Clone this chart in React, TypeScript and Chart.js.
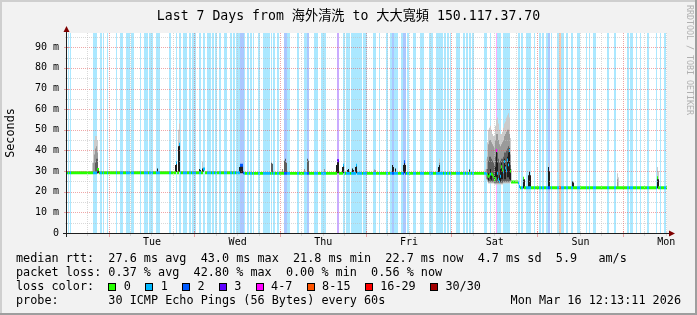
import React, { useEffect, useRef } from 'react';
import { Chart, registerables } from 'chart.js';

Chart.register(...registerables);

// ---------- text ----------
const TITLE = 'Last 7 Days from 海外清洗 to 大大寬頻 150.117.37.70';
const Y_AXIS_TITLE = 'Seconds';
const WATERMARK = 'RRDTOOL / TOBI OETIKER';
const LEGEND_RTT = 'median rtt:  27.6 ms avg  43.0 ms max  21.8 ms min  22.7 ms now  4.7 ms sd  5.9   am/s';
const LEGEND_LOSS = 'packet loss: 0.37 % avg  42.80 % max  0.00 % min  0.56 % now';
const LEGEND_COLOR_HEAD = 'loss color:';
const LEGEND_PROBE = 'probe:       30 ICMP Echo Pings (56 Bytes) every 60s';
const STAMP = 'Mon Mar 16 12:13:11 2026';

// ---------- axes ----------
// time in hours since Mon 00:00 (week start); window = last 7 days ending Mon 12:13:11
const WINDOW_START_H = 12.2197;
const WINDOW_END_H = 180.2197;
const SLOT_COUNT = 600; // 16.8 min per slot
const DAY_LABELS = ['Tue', 'Wed', 'Thu', 'Fri', 'Sat', 'Sun', 'Mon'];
const DAY_LABEL_HOURS = [36, 60, 84, 108, 132, 156, 180];
const Y_MAX = 96.9; // ms
const Y_TICKS = [0, 10, 20, 30, 40, 50, 60, 70, 80, 90];

// ---------- loss colours ----------
const LOSS_LABELS = ['0', '1', '2', '3', '4-7', '8-15', '16-29', '30/30'];
const LOSS_COLORS = ['#26ff00', '#00b8ff', '#0059ff', '#5e00ff', '#ff00ff', '#ff5500', '#ff0000', '#a00000'];

// ---------- data ----------
// packet-loss spans: [first slot, last slot, loss colour level]
const LOSS_SPANS: [number, number, number][] = [
  [1, 1, 1], [3, 3, 1], [26, 29, 1], [33, 34, 1], [36, 36, 1], [40, 40, 1], [49, 49, 1], [53, 55, 1], [59, 62, 1],
  [64, 66, 1], [73, 73, 1], [77, 80, 1], [82, 85, 1], [89, 92, 1],
  [102, 103, 1], [109, 109, 1], [112, 113, 1], [116, 119, 1], [122, 123, 1], [125, 128, 1], [132, 133, 1],
  [136, 137, 1], [140, 143, 1], [145, 146, 1], [148, 149, 1], [152, 153, 1], [157, 159, 1], [163, 164, 1],
  [166, 167, 1], [169, 172, 1], [173, 176, 2], [177, 177, 1], [180, 181, 1], [183, 184, 1], [186, 186, 1],
  [191, 192, 1], [196, 202, 1], [204, 204, 1], [206, 207, 1], [210, 211, 1], [217, 219, 2], [220, 222, 1],
  [230, 231, 1], [237, 239, 1], [240, 241, 2], [247, 250, 1], [254, 258, 1], [270, 271, 3], [276, 277, 1],
  [279, 282, 1], [284, 294, 1], [296, 299, 1],
  [306, 308, 1], [312, 312, 1], [319, 320, 1], [323, 324, 1], [325, 326, 2], [327, 330, 1], [334, 335, 1],
  [336, 338, 2], [340, 341, 1], [346, 348, 1], [353, 356, 1], [362, 365, 1], [369, 375, 1], [377, 378, 1],
  [380, 381, 1], [383, 383, 1], [389, 392, 1], [396, 397, 1], [399, 400, 1], [402, 403, 1], [405, 406, 1],
  [417, 419, 1], [423, 423, 1], [429, 429, 4], [430, 433, 1], [436, 442, 1], [451, 452, 1], [454, 455, 1],
  [459, 463, 1], [467, 467, 1], [472, 473, 1], [475, 476, 1], [479, 480, 1], [481, 482, 2], [484, 484, 1],
  [490, 491, 1], [492, 493, 5], [494, 496, 1], [499, 500, 1], [504, 505, 1],
  [510, 512, 1], [519, 519, 1], [522, 522, 1], [526, 528, 1], [540, 541, 1], [547, 548, 1], [560, 561, 1],
  [563, 565, 1], [569, 569, 1], [573, 573, 1], [580, 581, 1], [589, 589, 1], [593, 593, 1], [597, 598, 1],
];

// median rtt runs: [first slot, last slot, ms]
const MEDIAN_RUNS: [number, number, number][] = [
  [0, 29, 29.2], [30, 31, 30.8], [32, 108, 29.2], [109, 109, 34.0], [110, 111, 29.2], [112, 112, 43.0],
  [113, 135, 29.2], [136, 137, 31.0], [138, 172, 29.2], [173, 175, 32.8], [176, 176, 29.2],
  [177, 269, 28.9], [270, 271, 35.0], [272, 275, 28.9], [276, 276, 32.9], [277, 288, 28.9], [289, 289, 32.9],
  [290, 336, 28.9], [337, 337, 34.5], [338, 418, 28.9],
  [419, 419, 28.5], [420, 420, 28.1], [421, 421, 27.3], [422, 422, 28.0], [423, 423, 28.5], [424, 424, 28.6],
  [425, 425, 28.3], [426, 426, 27.3], [427, 427, 25.7], [428, 428, 26.5], [429, 429, 40.0], [430, 430, 28.9],
  [431, 431, 25.9], [432, 432, 24.9], [433, 433, 27.5], [434, 434, 32.1], [435, 435, 30.5], [436, 436, 29.6],
  [437, 437, 34.6], [438, 438, 31.5], [439, 439, 30.1], [440, 440, 35.4], [441, 441, 33.0], [442, 442, 40.0],
  [443, 443, 30.0], [444, 450, 24.7], [451, 451, 24.3], [452, 452, 22.5], [453, 455, 21.9], [456, 456, 26.5],
  [457, 589, 21.9], [590, 590, 26.8], [591, 599, 21.9],
];

// smoke (ping spread) per slot: [slot, low ms, high ms]
const SMOKE_FAINT: [number, number, number][] = [
  [25, 29, 34], [26, 29, 40], [27, 29, 45], [28, 29, 47], [29, 29, 47], [30, 29, 45],
  [111, 33, 50], [112, 43, 53], [135, 31, 34.6], [372, 33, 36], [481, 32, 34], [550, 21.5, 29], [551, 21.5, 27],
  [590, 26.5, 32], [591, 26, 30],
  [418, 27, 31], [419, 26, 36], [420, 25, 44], [421, 24, 50], [422, 24, 51], [423, 24, 52], [424, 24, 50],
  [425, 24, 48], [426, 24, 47], [427, 23.5, 47], [428, 23.5, 52], [429, 23.5, 55], [430, 23.5, 56],
  [431, 23.5, 53], [432, 23.5, 50], [433, 23.5, 48], [434, 23.5, 48], [435, 23.5, 49], [436, 24, 51],
  [437, 24, 53], [438, 24, 54], [439, 24, 56], [440, 24, 57], [441, 24, 58], [442, 24, 56], [443, 24.5, 46],
  [444, 24.5, 31],
];
const SMOKE_LIGHT: [number, number, number][] = [
  [26, 29, 34], [27, 29, 38], [28, 29, 41], [29, 29, 42], [30, 29, 39], [111, 31, 40], [215, 29, 31],
  [237, 29, 31], [257, 29, 31], [307, 29, 30.8], [308, 29, 30.5], [550, 21.5, 26], [372, 30, 34],
  [419, 26, 31], [420, 25.5, 37], [421, 24.5, 43], [422, 24.5, 45], [423, 24.5, 45], [424, 24.5, 44],
  [425, 24.5, 43], [426, 24.5, 42], [427, 24, 41], [428, 24, 45], [429, 24, 48], [430, 24, 48], [431, 24, 45],
  [432, 24, 43], [433, 24, 42], [434, 24, 43], [435, 24, 44], [436, 24.5, 45], [437, 24.5, 47],
  [438, 24.5, 48], [439, 24.5, 49], [440, 24.5, 50], [441, 24.5, 50], [442, 24.5, 48], [443, 25, 38],
];
const SMOKE_MID: [number, number, number][] = [
  [28, 29, 34], [29, 29, 36], [30, 29, 36], [204, 29, 34], [205, 29, 33.5], [217, 29, 35], [218, 29, 36],
  [219, 29, 34], [240, 29, 36], [241, 29, 35],
  [420, 26, 31], [421, 25, 35], [422, 25, 37], [423, 25, 37], [424, 25, 36], [425, 25, 35], [426, 25, 34],
  [427, 24.5, 33], [428, 24.5, 37], [429, 24.5, 40], [430, 24.5, 39], [431, 24.5, 36], [432, 24.5, 34],
  [433, 24.5, 35], [434, 24.5, 36], [435, 24.5, 36], [436, 25, 37], [437, 25, 39], [438, 25, 39],
  [439, 25, 40], [440, 25, 41], [441, 25, 42], [442, 25, 41], [443, 25.5, 33],
];
const SMOKE_DARK: [number, number, number][] = [
  [30, 29, 31.3], [31, 29, 31.3], [90, 29, 31.3], [108, 29.5, 33], [109, 29.5, 34], [111, 29.5, 42],
  [112, 29.5, 43], [132, 29.5, 31], [133, 29.5, 30.5], [135, 29.5, 31.3], [136, 29.5, 31], [172, 29, 32],
  [173, 29, 33], [174, 29, 33], [175, 29, 32.5], [269, 29, 33], [270, 29, 35.4], [271, 29, 35], [275, 29, 32],
  [276, 29, 33], [280, 29, 30.5], [281, 29, 31], [285, 29, 31.3], [286, 29, 30.5], [288, 29, 32],
  [289, 29, 32.9], [325, 29, 32.9], [326, 29, 32], [328, 29, 31.3], [336, 29, 33], [337, 29, 34.5],
  [338, 29, 33], [371, 29, 32], [372, 29, 33], [402, 29, 30.8],
  [421, 25.5, 29], [423, 26, 31], [424, 25.5, 29], [427, 25, 28], [428, 26, 32], [429, 27, 40], [430, 26, 34],
  [432, 25, 28], [433, 25, 31], [434, 26, 34], [435, 26, 31], [437, 26, 36], [438, 26, 33], [440, 27, 37],
  [441, 27, 39], [442, 26, 41], [443, 25.5, 31],
  [456, 21.5, 27], [457, 21.5, 26], [461, 21.5, 28], [462, 21.5, 29.7], [463, 21.5, 28], [481, 21.5, 32],
  [482, 21.5, 30], [505, 21.5, 25], [506, 21.5, 24.5], [590, 21.5, 26.5], [591, 21.5, 26],
];

// ---------- styles ----------
const MONO = '"DejaVu Sans Mono", "Noto Sans CJK TC", monospace';
const BACK = '#f2f2f2';
const SHADE_A = '#cfcfcf';
const SHADE_B = '#9e9e9e';
const GRID = 'rgba(192,192,192,0.6)';
const MGRID = 'rgba(224,80,80,0.5)';
const AXIS = '#1f1f1f';
const ARROW = '#7f0000';
const MEDIAN_HALF_BAND = 0.7; // ms, half thickness of the median band

const tint = (hex: string, a: number) => {
  const n = parseInt(hex.slice(1), 16);
  const ch = [(n >> 16) & 255, (n >> 8) & 255, n & 255].map((c) => Math.round(255 * (1 - a) + c * a));
  return `rgb(${ch[0]},${ch[1]},${ch[2]})`;
};
const STRIPE_COLORS = LOSS_COLORS.map((c) => tint(c, 0.33));

const SLOT_H = (WINDOW_END_H - WINDOW_START_H) / SLOT_COUNT;
const slotHour = (i: number) => WINDOW_START_H + (i + 0.5) * SLOT_H;

function buildConfig(): any {
  const lossBySlot: number[] = new Array(SLOT_COUNT).fill(0);
  LOSS_SPANS.forEach(([a, b, l]) => { for (let i = a; i <= b; i++) lossBySlot[i] = l; });
  const medianBySlot: number[] = new Array(SLOT_COUNT).fill(NaN);
  MEDIAN_RUNS.forEach(([a, b, v]) => { for (let i = a; i <= b; i++) medianBySlot[i] = v; });

  const barCommon = {
    type: 'bar', grouped: false, barPercentage: 1, categoryPercentage: 1,
    borderWidth: 0, inflateAmount: 0, borderSkipped: false,
  };
  const smoke = (rows: [number, number, number][], color: string, order: number) => ({
    ...barCommon,
    data: rows.map(([s, lo, hi]) => ({ x: slotHour(s), y: [lo, hi] })),
    backgroundColor: color,
    order,
  });
  const stripeData: any[] = [];
  lossBySlot.forEach((l, i) => { if (l > 0) stripeData.push({ x: slotHour(i), y: [0, Y_MAX], level: l }); });
  const medianData = medianBySlot.map((m, i) => ({
    x: slotHour(i), y: [m - MEDIAN_HALF_BAND, m + MEDIAN_HALF_BAND], level: lossBySlot[i],
  }));

  const plugin = {
    id: 'rrdStyle',
    beforeDraw(chart: any) {
      const { ctx, chartArea: a, width, height } = chart;
      ctx.save();
      ctx.fillStyle = BACK;
      ctx.fillRect(0, 0, width, height);
      ctx.fillStyle = SHADE_A;
      ctx.fillRect(0, 0, width, 2);
      ctx.fillRect(0, 0, 2, height);
      ctx.fillStyle = SHADE_B;
      ctx.fillRect(0, height - 2, width, 2);
      ctx.fillRect(width - 2, 0, 2, height);
      ctx.fillStyle = '#ffffff';
      ctx.fillRect(a.left, a.top, a.right - a.left, a.bottom - a.top);
      ctx.restore();
    },
    afterDatasetsDraw(chart: any) {
      const { ctx, chartArea: a } = chart;
      const xs = chart.scales.x;
      const ys = chart.scales.y;
      ctx.save();
      ctx.lineWidth = 1;
      ctx.setLineDash([1, 1]);
      for (let v = 5; v < Y_MAX; v += 5) {
        const py = Math.round(ys.getPixelForValue(v)) + 0.5;
        ctx.strokeStyle = v % 10 === 0 ? MGRID : GRID;
        ctx.beginPath();
        ctx.moveTo(a.left, py);
        ctx.lineTo(a.right, py);
        ctx.stroke();
      }
      for (let h = Math.ceil(WINDOW_START_H / 6) * 6; h < WINDOW_END_H; h += 6) {
        const px = Math.floor(xs.getPixelForValue(h)) + 0.5;
        ctx.strokeStyle = h % 24 === 0 ? MGRID : GRID;
        ctx.beginPath();
        ctx.moveTo(px, a.top);
        ctx.lineTo(px, a.bottom);
        ctx.stroke();
      }
      ctx.setLineDash([]);
      for (let v = 5; v < Y_MAX; v += 5) {
        const py = Math.round(ys.getPixelForValue(v)) + 0.5;
        const major = v % 10 === 0;
        ctx.strokeStyle = major ? MGRID : GRID;
        ctx.beginPath();
        ctx.moveTo(a.left - (major ? 3 : 2), py);
        ctx.lineTo(a.left + (major ? 2 : 1), py);
        ctx.stroke();
      }
      for (let h = Math.ceil(WINDOW_START_H / 6) * 6; h < WINDOW_END_H; h += 6) {
        const px = Math.floor(xs.getPixelForValue(h)) + 0.5;
        const major = h % 24 === 0;
        ctx.strokeStyle = major ? MGRID : GRID;
        ctx.beginPath();
        ctx.moveTo(px, a.bottom - (major ? 2 : 1));
        ctx.lineTo(px, a.bottom + (major ? 4 : 3));
        ctx.stroke();
      }
      ctx.strokeStyle = AXIS;
      ctx.beginPath();
      ctx.moveTo(a.left - 4, a.bottom + 0.5);
      ctx.lineTo(a.right + 4, a.bottom + 0.5);
      ctx.moveTo(a.left - 0.5, a.bottom + 4);
      ctx.lineTo(a.left - 0.5, a.top - 4);
      ctx.stroke();
      ctx.fillStyle = ARROW;
      ctx.beginPath();
      ctx.moveTo(a.right + 2, a.bottom - 2.5);
      ctx.lineTo(a.right + 8, a.bottom + 0.5);
      ctx.lineTo(a.right + 2, a.bottom + 3.5);
      ctx.closePath();
      ctx.fill();
      ctx.beginPath();
      ctx.moveTo(a.left - 3.5, a.top - 1);
      ctx.lineTo(a.left - 0.5, a.top - 7);
      ctx.lineTo(a.left + 2.5, a.top - 1);
      ctx.closePath();
      ctx.fill();
      ctx.restore();
    },
    afterDraw(chart: any) {
      const { ctx, chartArea: a, width } = chart;
      ctx.save();
      ctx.fillStyle = '#000';
      ctx.font = `13.2px ${MONO}`;
      ctx.textAlign = 'center';
      ctx.textBaseline = 'alphabetic';
      ctx.fillText(TITLE, width / 2, 19.5);
      ctx.font = `11.8px ${MONO}`;
      ctx.save();
      ctx.translate(11, (a.top + a.bottom) / 2);
      ctx.rotate(-Math.PI / 2);
      ctx.textAlign = 'center';
      ctx.textBaseline = 'middle';
      ctx.fillText(Y_AXIS_TITLE, 0, 0);
      ctx.restore();
      ctx.save();
      ctx.font = `8.3px ${MONO}`;
      ctx.fillStyle = '#b0b0b0';
      ctx.translate(689, 5);
      ctx.rotate(Math.PI / 2);
      ctx.textAlign = 'left';
      ctx.textBaseline = 'middle';
      ctx.fillText(WATERMARK, 0, 0);
      ctx.restore();
      ctx.font = `11.8px ${MONO}`;
      ctx.textAlign = 'left';
      ctx.textBaseline = 'middle';
      const adv = ctx.measureText('0').width;
      const lx = 16;
      ctx.fillText(LEGEND_RTT, lx, 259);
      ctx.fillText(LEGEND_LOSS, lx, 273);
      ctx.fillText(LEGEND_COLOR_HEAD, lx, 287);
      let cx = lx + 13 * adv;
      LOSS_LABELS.forEach((lab, i) => {
        ctx.fillStyle = LOSS_COLORS[i];
        ctx.fillRect(Math.round(cx), 283, 8, 8);
        ctx.strokeStyle = '#000';
        ctx.lineWidth = 1;
        ctx.strokeRect(Math.round(cx) + 0.5, 283.5, 7, 7);
        ctx.fillStyle = '#000';
        const tx = cx + 15.5;
        ctx.fillText(lab, tx, 287);
        cx = tx + (lab.length + 2) * adv;
      });
      ctx.fillText(LEGEND_PROBE, lx, 301);
      ctx.textAlign = 'right';
      ctx.fillText(STAMP, 681, 301);
      ctx.restore();
    },
  };

  return {
    type: 'bar',
    data: {
      datasets: [
        {
          ...barCommon,
          data: medianData,
          backgroundColor: (c: any) => LOSS_COLORS[c.raw ? c.raw.level : 0],
          order: 0,
        },
        smoke(SMOKE_DARK, '#1e1e1e', 1),
        smoke(SMOKE_MID, '#5e5e5e', 2),
        smoke(SMOKE_LIGHT, '#9a9a9a', 3),
        smoke(SMOKE_FAINT, '#cbcbcb', 4),
        {
          ...barCommon,
          data: stripeData,
          backgroundColor: (c: any) => STRIPE_COLORS[c.raw ? c.raw.level : 1],
          order: 5,
        },
      ],
    },
    options: {
      animation: false,
      responsive: false,
      devicePixelRatio: 1,
      layout: { padding: { left: 0, right: 30, top: 33, bottom: 62 } },
      plugins: { legend: { display: false }, tooltip: { enabled: false }, title: { display: false } },
      scales: {
        x: {
          type: 'linear',
          min: WINDOW_START_H,
          max: WINDOW_END_H,
          offset: false,
          grid: { display: false, drawTicks: false },
          border: { display: false },
          ticks: {
            autoSkip: false,
            maxRotation: 0,
            padding: 3,
            color: '#000',
            font: { family: MONO, size: 10 },
            callback: (_v: any, i: number) => DAY_LABELS[i],
          },
          afterBuildTicks: (s: any) => { s.ticks = DAY_LABEL_HOURS.map((v) => ({ value: v })); },
          afterFit: (s: any) => { s.height = 20; },
        },
        y: {
          type: 'linear',
          min: 0,
          max: Y_MAX,
          grid: { display: false, drawTicks: false },
          border: { display: false },
          ticks: {
            padding: 8,
            color: '#000',
            font: { family: MONO, size: 10 },
            callback: (v: any) => (v === 0 ? '0' : `${v} m`),
          },
          afterBuildTicks: (s: any) => { s.ticks = Y_TICKS.map((v) => ({ value: v })); },
          afterFit: (s: any) => { s.width = 67; },
        },
      },
    },
    plugins: [plugin],
  };
}

export default function App() {
  const ref = useRef<HTMLCanvasElement>(null);
  useEffect(() => {
    const canvas = ref.current;
    if (!canvas) return;
    const chart = new Chart(canvas, buildConfig());
    return () => chart.destroy();
  }, []);
  return (
    <div style={{ position: 'absolute', left: 0, top: 0, width: 697, height: 315 }}>
      <canvas ref={ref} width={697} height={315} style={{ width: 697, height: 315, display: 'block' }} />
    </div>
  );
}
